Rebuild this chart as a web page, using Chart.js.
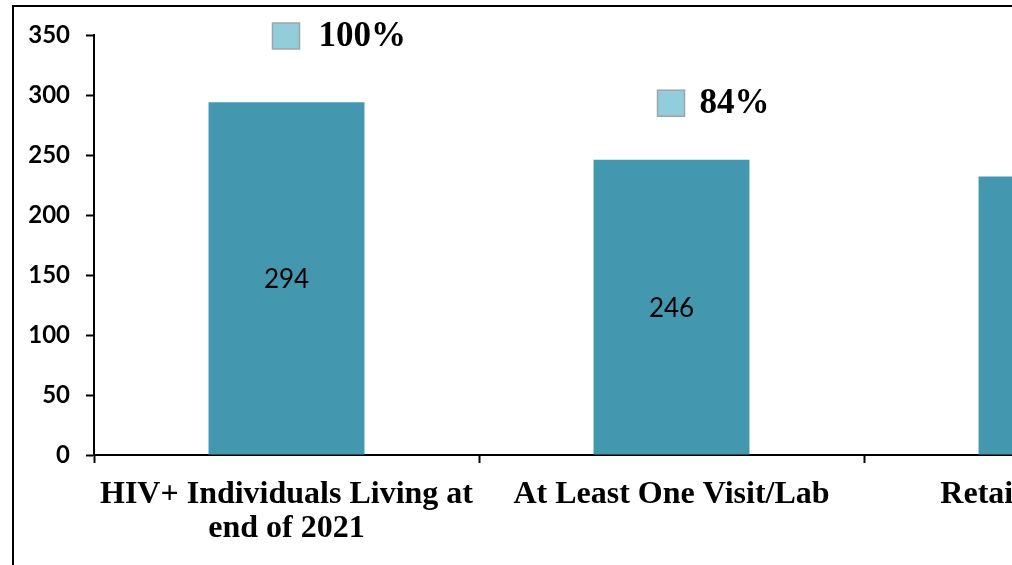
<!DOCTYPE html>
<html>
<head>
<meta charset="utf-8">
<script src="https://cdn.jsdelivr.net/npm/chart.js@4/dist/chart.umd.min.js"></script>
<style>
  html, body { margin: 0; padding: 0; background: #fff; overflow: hidden; width: 1012px; height: 565px; }
  #wrap { position: absolute; left: 0; top: 0; width: 1280px; height: 620px; }
  #frame { position: absolute; left: 12px; top: 5px; width: 1400px; height: 700px; border: 2px solid #000; box-sizing: border-box; pointer-events: none; }
  canvas { position: absolute; left: 0; top: 0; }
</style>
</head>
<body>
<div id="wrap">
  <canvas id="c" width="1280" height="620"></canvas>
  <div id="frame"></div>
</div>
<script>
const categories = [
  ['HIV+ Individuals Living at', 'end of 2021'],
  'At Least One Visit/Lab',
  'Retained in Care'
];
const counts = [294, 246, 232];
const percents = [100, 84, 79];
const yTicks = [0, 50, 100, 150, 200, 250, 300, 350];

const BAR_COLOR = '#4398AF';
const KEY_COLOR = '#92CDDC';

const labelPlugin = {
  id: 'customLabels',
  afterDatasetsDraw(chart) {
    const ctx = chart.ctx;
    const barMeta = chart.getDatasetMeta(0);
    ctx.save();
    ctx.fillStyle = '#000';
    ctx.font = '26px Lato';
    ctx.textAlign = 'center';
    ctx.textBaseline = 'middle';
    barMeta.data.forEach((bar, i) => {
      const mid = (bar.y + bar.base) / 2;
      ctx.fillText(String(counts[i]), bar.x, mid + 1);
    });
    const pMeta = chart.getDatasetMeta(1);
    pMeta.data.forEach((pt, i) => {
      const x = pt.x, y = pt.y + 1;
      ctx.fillStyle = KEY_COLOR;
      ctx.fillRect(x - 14, y - 13, 27, 26);
      ctx.strokeStyle = '#9aa6a9';
      ctx.lineWidth = 1.5;
      ctx.strokeRect(x - 14, y - 13, 27, 26);
      ctx.fillStyle = '#000';
      ctx.font = 'bold 35px "Liberation Serif"';
      ctx.textAlign = 'left';
      ctx.textBaseline = 'middle';
      ctx.fillText(percents[i] + '%', x + (i === 0 ? 32 : 28), y + 1);
    });
    ctx.restore();
  }
};

new Chart(document.getElementById('c'), {
  type: 'bar',
  data: {
    labels: categories,
    datasets: [
      {
        type: 'bar',
        data: counts,
        backgroundColor: BAR_COLOR,
        borderWidth: 0,
        categoryPercentage: 1,
        barPercentage: 0.405,
        yAxisID: 'y'
      },
      {
        type: 'line',
        data: percents,
        showLine: false,
        pointRadius: 0,
        yAxisID: 'y2'
      }
    ]
  },
  options: {
    responsive: false,
    animation: false,
    events: [],
    layout: { padding: { top: 35, left: 0, right: 31, bottom: 0 } },
    plugins: { legend: { display: false }, tooltip: { enabled: false } },
    scales: {
      x: {
        offset: true,
        grid: {
          offset: true,
          drawOnChartArea: false,
          drawTicks: true,
          tickLength: 8,
          tickWidth: 2,
          tickColor: '#000'
        },
        border: { display: true, color: '#000', width: 2 },
        ticks: {
          color: '#000',
          padding: 15,
          maxRotation: 0,
          autoSkip: false,
          font: { family: '"Liberation Serif"', weight: 'bold', size: 32, lineHeight: 1.06 }
        },
        afterFit(scale) { scale.height = 620 - 455; }
      },
      y: {
        min: 0,
        max: 350,
        afterBuildTicks(scale) { scale.ticks = yTicks.map(v => ({ value: v })); },
        grid: {
          drawOnChartArea: false,
          drawTicks: true,
          tickLength: 8,
          tickWidth: 2,
          tickColor: '#000'
        },
        border: { display: true, color: '#000', width: 2 },
        ticks: {
          color: '#000',
          padding: 16,
          font: { family: 'Lato', weight: 'bold', size: 24 }
        },
        afterFit(scale) { scale.width = 94; }
      },
      y2: {
        display: false,
        min: 0,
        max: 100
      }
    }
  },
  plugins: [labelPlugin]
});
</script>
</body>
</html>
